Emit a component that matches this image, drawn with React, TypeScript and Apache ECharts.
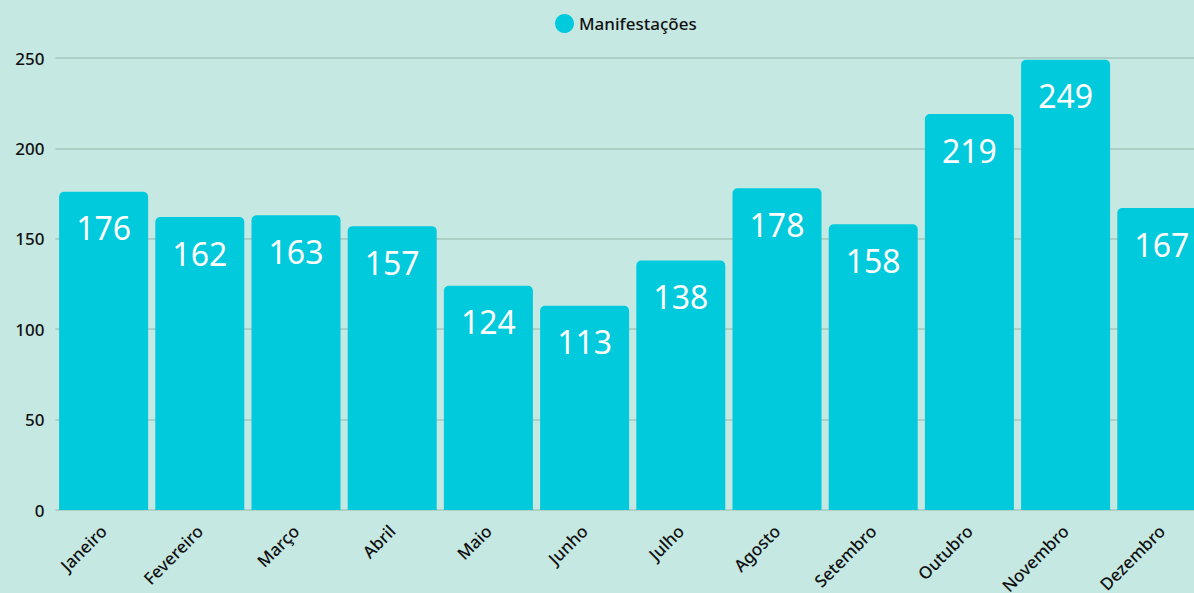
import React, { useEffect, useRef } from "react";
import * as echarts from "echarts";

const categories = ["Janeiro", "Fevereiro", "Março", "Abril", "Maio", "Junho", "Julho", "Agosto", "Setembro", "Outubro", "Novembro", "Dezembro"];
const manifestacoes = [176, 162, 163, 157, 124, 113, 138, 178, 158, 219, 249, 167];
const seriesName = "Manifestações";

export default function App() {
  const ref = useRef<HTMLDivElement>(null);
  useEffect(() => {
    if (!ref.current) return;
    const chart = echarts.init(ref.current, null, { renderer: "svg" });
    chart.setOption({
      animation: false,
      backgroundColor: "#c5e8e3",
      textStyle: { fontFamily: "Noto Sans" },
      legend: {
        data: [seriesName],
        left: 550,
        top: 9,
        icon: "circle",
        itemWidth: 19,
        itemHeight: 19,
        itemGap: 6,
        textStyle: { fontSize: 17, color: "#111", fontFamily: "Noto Sans", fontWeight: 500 },
      },
      grid: { left: 55.5, top: 58, bottom: 83, right: -15.9, containLabel: false, outerBoundsMode: "none" },
      xAxis: {
        type: "category",
        data: categories,
        axisLine: { show: false },
        axisTick: { show: false },
        axisLabel: {
          rotate: 45,
          interval: 0,
          margin: 18,
          fontSize: 17,
          color: "#111",
          fontFamily: "Noto Sans",
          fontWeight: 500,
        },
      },
      yAxis: {
        type: "value",
        min: 0,
        max: 250,
        interval: 50,
        axisLine: { show: false },
        axisTick: { show: false },
        axisLabel: { margin: 11, fontSize: 17, color: "#111", fontFamily: "Noto Sans", fontWeight: 500 },
        splitLine: { lineStyle: { color: "#a3c7bc", width: 1.5 } },
      },
      series: [
        {
          name: seriesName,
          type: "bar",
          data: manifestacoes,
          barWidth: 89,
          itemStyle: { color: "#00cadb", borderRadius: [5, 5, 0, 0] },
          label: {
            show: true,
            position: "insideTop",
            distance: 20,
            color: "#fff",
            fontSize: 32,
            fontFamily: "Noto Sans",
            fontWeight: 400,
          },
        },
      ],
    });
    return () => chart.dispose();
  }, []);
  return <div ref={ref} style={{ position: "fixed", left: 0, top: 0, width: 1194, height: 593 }} />;
}
